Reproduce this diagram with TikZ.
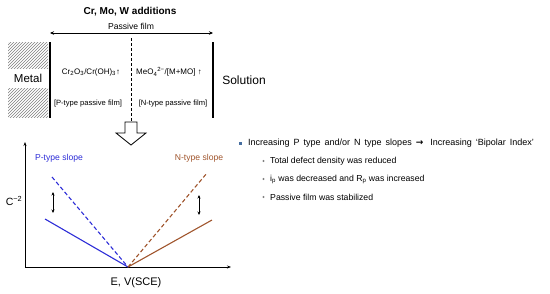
\documentclass[tikz,border=0pt]{standalone}
\usepackage{fontspec}
\setmainfont{Liberation Sans}
\newfontfamily\arrfont{DejaVu Sans}
\usetikzlibrary{patterns,arrows.meta}
\definecolor{pblue}{RGB}{45,45,215}
\definecolor{nbrown}{RGB}{160,85,45}
\definecolor{bul}{RGB}{70,110,160}
\tikzset{
  wall/.style={line width=1.6pt},
  lbl/.style={inner sep=0pt, anchor=center},
  slope/.style={line width=1.1pt},
  axis/.style={line width=0.8pt,-{Stealth[length=4pt,width=3pt]}},
  dbl/.style={line width=0.9pt,{Stealth[length=3.5pt,width=3pt]}-{Stealth[length=3.5pt,width=3pt]}},
  item/.style={inner sep=0pt, anchor=west, font=\fontsize{8.7}{10}\selectfont},
}
\begin{document}
\begin{tikzpicture}[x=1pt,y=-1pt]
\useasboundingbox (0,0) rectangle (550,293);
% title
\node[lbl,font=\bfseries\fontsize{10}{12}\selectfont] (title) at (130,12) {Cr, Mo, W additions};
% passive film arrow
\coordinate (pfL) at (50,33);
\coordinate (pfR) at (213,33);
\draw[line width=0.6pt,{Stealth[length=4pt,width=3.5pt]}-{Stealth[length=4pt,width=3.5pt]}] (pfL) -- (pfR);
\node[lbl,font=\fontsize{8.6}{10}\selectfont] (pf) at (131,26) {Passive film};
% metal hatch
\fill[pattern=north east lines,pattern color=gray] (8,42) rectangle (48,68);
\fill[pattern=north east lines,pattern color=gray] (8,88) rectangle (48,117);
\node[lbl,font=\fontsize{11.5}{13}\selectfont] (metal) at (28,78) {Metal};
% walls
\draw[wall] (50,42) -- (50,118);
\draw[wall] (213,42) -- (213,118);
\draw[line width=0.8pt,dash pattern=on 3pt off 2pt] (131,38) -- (131,122);
\node[lbl,font=\fontsize{12}{14}\selectfont] (sol) at (244,80) {Solution};
% film texts
\node[lbl,font=\fontsize{8}{10}\selectfont] (cr) at (91,72) {Cr\textsubscript{2}O\textsubscript{3}/Cr(OH)\textsubscript{3}↑};
\node[lbl,font=\fontsize{8}{10}\selectfont] (meo) at (169,72) {MeO\textsubscript{4}\textsuperscript{2−}/[M+MO] ↑};
\node[lbl,font=\fontsize{7.6}{9}\selectfont] (ptype) at (88,104) {[P-type passive film]};
\node[lbl,font=\fontsize{7.6}{9}\selectfont] (ntype) at (173,104) {[N-type passive film]};
% block arrow
\draw[line width=0.8pt,fill=white] (125,122) -- (137,122) -- (137,133) -- (146,133) -- (131,145) -- (116,133) -- (125,133) -- cycle;
% graph
\coordinate (O) at (25,267);
\coordinate (V) at (128,267);
\draw[axis] (O) -- (25,142);
\draw[axis] (O) -- (231,267);
\node[lbl,font=\fontsize{10.5}{12}\selectfont] (cy) at (14,201) {C\textsuperscript{−2}};
\node[lbl,font=\fontsize{11}{13}\selectfont] (cx) at (136,283) {E, V(SCE)};
\node[lbl,font=\fontsize{8.6}{10}\selectfont,text=pblue] (pslope) at (59,158) {P-type slope};
\node[lbl,font=\fontsize{8.6}{10}\selectfont,text=nbrown] (nslope) at (199,158) {N-type slope};
\coordinate (ps) at (45,219);
\coordinate (pd) at (52,177);
\coordinate (ns) at (212,220);
\coordinate (nd) at (207,173);
\draw[slope,pblue] (ps) -- (V);
\draw[slope,pblue,dash pattern=on 4pt off 2.5pt] (pd) -- (V);
\draw[slope,nbrown] (V) -- (ns);
\draw[slope,nbrown,dash pattern=on 4pt off 2.5pt] (V) -- (nd);
\coordinate (a1) at (53,192);
\coordinate (a2) at (53,213);
\coordinate (b1) at (199,195);
\coordinate (b2) at (199,215);
\draw[dbl] (a1) -- (a2);
\draw[dbl] (b1) -- (b2);
% right text
\fill[bul] (239,141.5) rectangle (242,144.5);
\node[item,font=\fontsize{9}{10}\selectfont] (t1) at (248,143) {\spaceskip=4pt Increasing P type and/or N type slopes\hspace{4pt}{\arrfont\bfseries →}\hspace{7pt}Increasing ‘Bipolar Index’};
\fill[gray] (263.5,161) circle (1.2pt);
\node[item] (t2) at (270,161) {Total defect density was reduced};
\fill[gray] (263.5,179) circle (1.2pt);
\node[item] (t3) at (270,179) {i\textsubscript{p} was decreased and R\textsubscript{p} was increased};
\fill[gray] (263.5,197) circle (1.2pt);
\node[item] (t4) at (270,197) {Passive film was stabilized};
\end{tikzpicture}
\end{document}
